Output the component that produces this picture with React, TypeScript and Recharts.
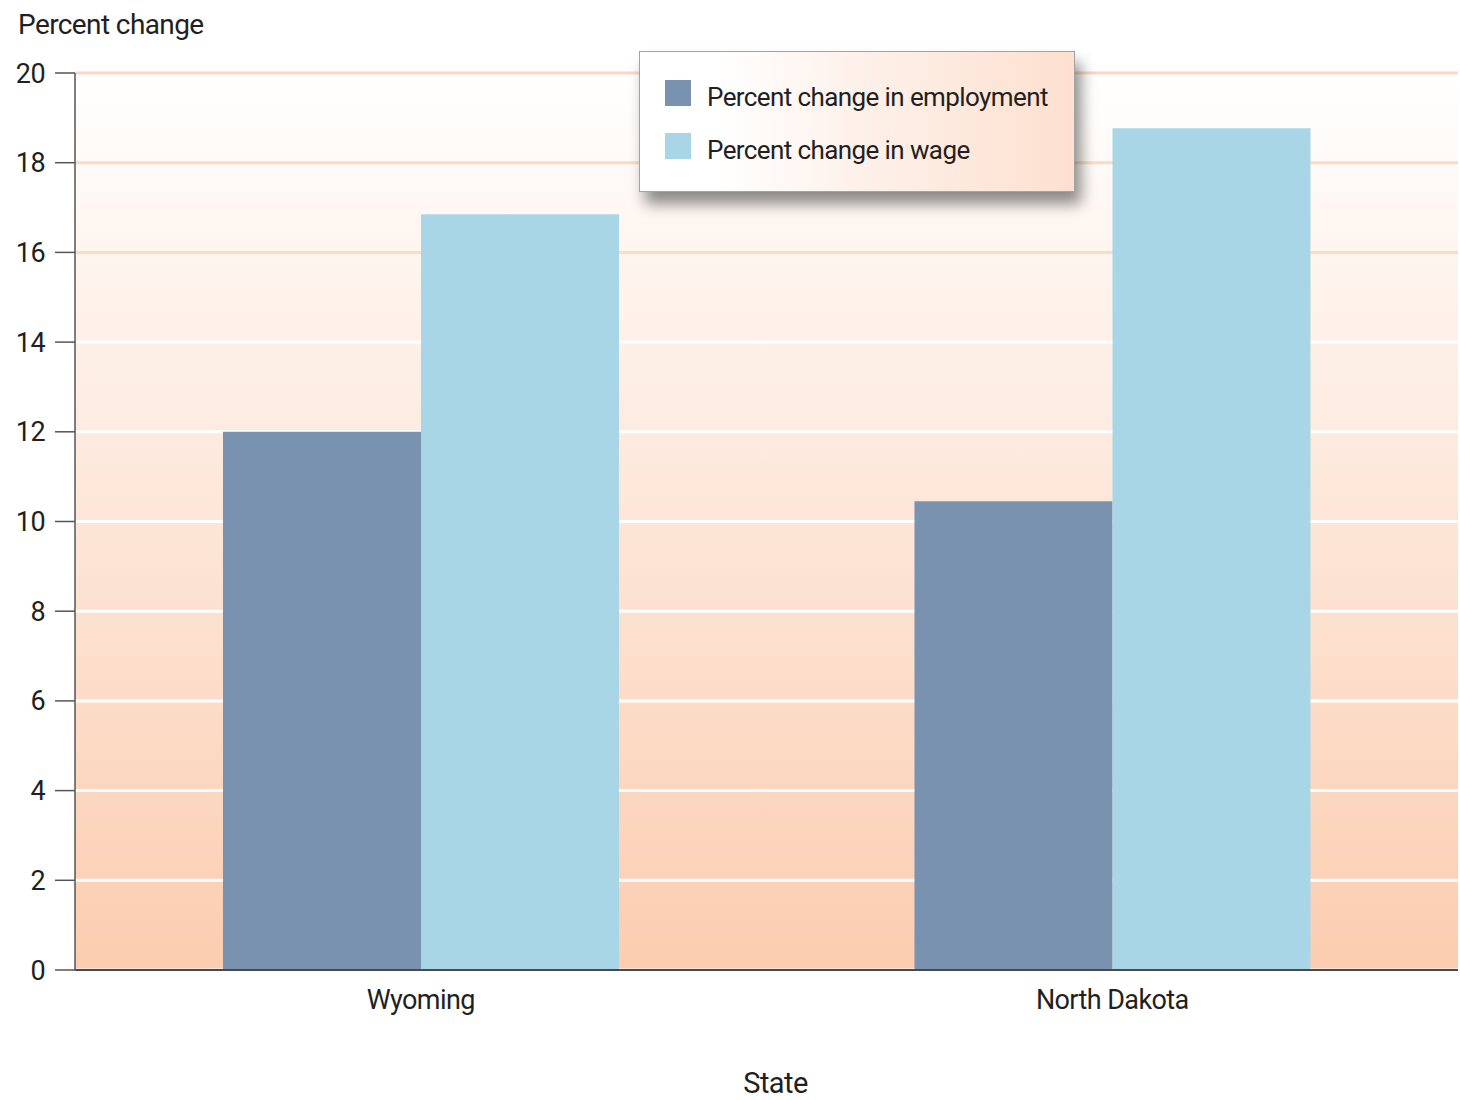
import { BarChart, Bar, XAxis, YAxis, CartesianGrid, Label } from "recharts";

const states = ["Wyoming", "North Dakota"];
const employmentChange = [12.0, 10.45];
const wageChange = [16.85, 18.77];
const yTicks = [0, 2, 4, 6, 8, 10, 12, 14, 16, 18, 20];

const seriesInfo = [
  { key: "employment", name: "Percent change in employment", color: "#7892b0" },
  { key: "wage", name: "Percent change in wage", color: "#a8d6e7" },
];

const data = states.map((s, i) => ({
  state: s,
  employment: employmentChange[i],
  wage: wageChange[i],
}));

const FONT = 'Roboto, "Noto Sans", sans-serif';
const textStyle = { fill: "#231f20", fontFamily: FONT, letterSpacing: -0.6 };

const LegendBox = () => (
  <div
    style={{
      position: "absolute",
      left: 639,
      top: 51,
      width: 436,
      height: 141,
      boxSizing: "border-box",
      border: "1px solid #a3a3a3",
      background: "linear-gradient(to right, #ffffff 0%, #ffffff 18%, #fdf1ea 50%, #fde0cf 100%)",
      boxShadow: "6px 12px 14px rgba(0,0,0,0.45)",
      padding: "28px 0 0 25px",
      fontFamily: FONT,
      fontSize: 26,
      letterSpacing: -0.6,
      color: "#231f20",
      whiteSpace: "nowrap",
    }}
  >
    {seriesInfo.map((s) => (
      <div key={s.key} style={{ display: "flex", alignItems: "flex-start", height: 53 }}>
        <div style={{ width: 26, height: 26, flexShrink: 0, background: s.color, marginRight: 16 }} />
        <span style={{ marginTop: 1, lineHeight: "32px" }}>{s.name}</span>
      </div>
    ))}
  </div>
);

export default function App() {
  return (
    <div style={{ position: "absolute", left: 0, top: 0, width: 1460, height: 1100, background: "#fff" }}>
      <BarChart
        width={1460}
        height={1100}
        data={data}
        margin={{ top: 73, right: 2, bottom: 100, left: 15 }}
        barCategoryGap="21.4%"
        barGap={0}
      >
        <defs>
          <linearGradient id="bgGrad" x1="0" y1="0" x2="0" y2="1">
            <stop offset="0%" stopColor="#ffffff" />
            <stop offset="100%" stopColor="#fbcdb0" />
          </linearGradient>
          <linearGradient id="gridGrad" gradientUnits="userSpaceOnUse" x1="0" y1="73" x2="0" y2="970">
            <stop offset="0%" stopColor="#fcd8c2" />
            <stop offset="21%" stopColor="#fcdcc8" />
            <stop offset="27%" stopColor="#ffffff" />
            <stop offset="100%" stopColor="#ffffff" />
          </linearGradient>
        </defs>
        <CartesianGrid
          vertical={false}
          fill="url(#bgGrad)"
          stroke="url(#gridGrad)"
          strokeWidth={3}
          fillOpacity={1}
        />
        <XAxis
          dataKey="state"
          height={30}
          axisLine={{ stroke: "#4a4a4a", strokeWidth: 2 }}
          tickLine={false}
          tick={{ ...textStyle, fontSize: 27 }}
          tickMargin={14}
        >
          <Label value="State" position="bottom" offset={72} dx={9} style={{ ...textStyle, fontSize: 29 }} />
        </XAxis>
        <YAxis
          width={60}
          domain={[0, 20]}
          ticks={yTicks}
          interval={0}
          axisLine={{ stroke: "#555555", strokeWidth: 1.5 }}
          tickLine={{ stroke: "#555555", strokeWidth: 1.5 }}
          tickSize={20}
          tickMargin={10}
          tick={{ ...textStyle, fontSize: 27 }}
        >
          <Label
            content={() => (
              <text x={18} y={34} style={{ ...textStyle, fontSize: 28 }}>
                Percent change
              </text>
            )}
          />
        </YAxis>
        {seriesInfo.map((s) => (
          <Bar key={s.key} dataKey={s.key} name={s.name} fill={s.color} isAnimationActive={false} />
        ))}
      </BarChart>
      <LegendBox />
    </div>
  );
}
